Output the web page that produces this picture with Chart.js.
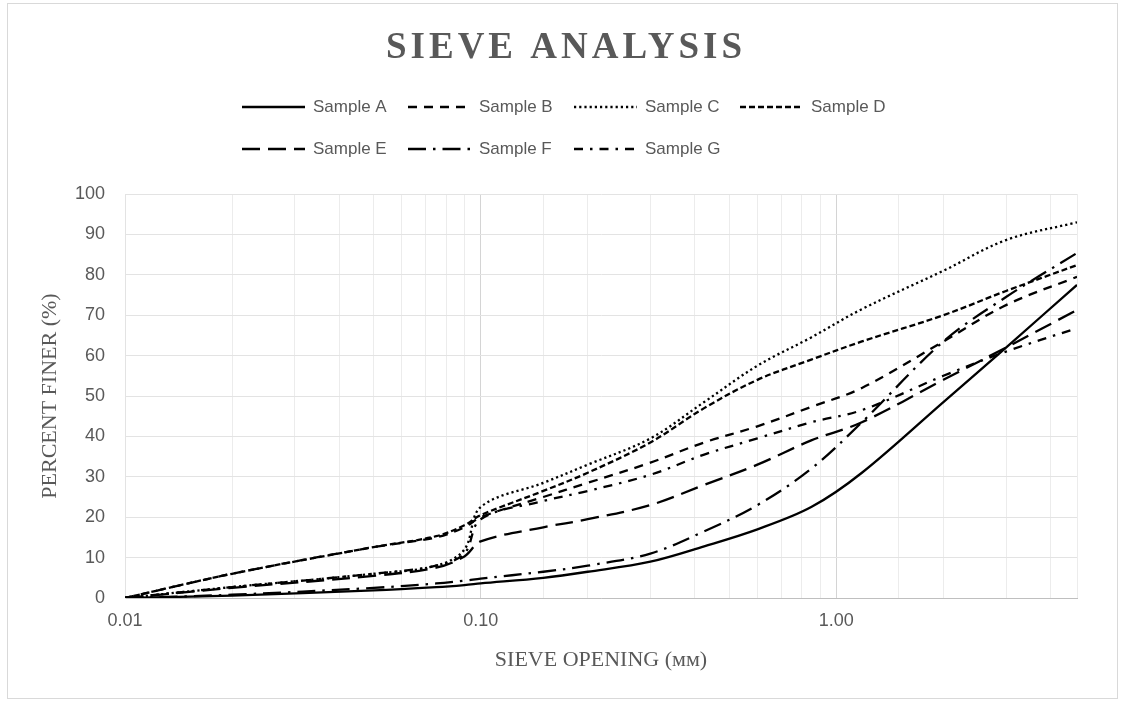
<!DOCTYPE html>
<html>
<head>
<meta charset="utf-8">
<script src="https://cdn.jsdelivr.net/npm/chart.js@4.4.1/dist/chart.umd.min.js"></script>
<style>
  html, body { margin: 0; padding: 0; background: #fff; }
</style>
</head>
<body>
<canvas id="sieveChart" width="1122" height="702"></canvas>
<script>
// sieve opening (mm) and percent finer
const sieveSizes = [0.01, 0.02, 0.05, 0.075, 0.09, 0.1, 0.15, 0.2, 0.3, 0.425, 0.6, 0.85, 1.18, 2.0, 3.0, 4.75];

const sampleA = [0, 0.6, 1.9, 2.7, 3.2, 3.6, 5, 6.5, 9, 12.8, 17, 22.5, 31, 48.5, 62, 77.5];
const sampleB = [0, 6, 12.6, 15, 17.5, 20, 25, 28.5, 33.5, 38.5, 42.5, 47.3, 52, 63.5, 72.5, 79.5];
const sampleC = [0, 2.7, 6, 8, 12, 22.5, 28.5, 33, 39.5, 48.5, 57.5, 64.5, 71.5, 81, 88.6, 93];
const sampleD = [0, 6, 12.6, 15.3, 18, 20.5, 26.5, 31, 38.5, 47, 54, 59, 63.5, 70, 76, 82.4];
const sampleE = [0, 2.5, 5.5, 7.5, 10.3, 14, 17.5, 19.5, 23, 28, 33, 39, 43.5, 54, 62, 71.3];
const sampleF = [0, 0.8, 2.5, 3.6, 4.3, 4.8, 6.5, 8, 11, 16.5, 23, 32, 43.5, 63.5, 74.5, 85.4];
const sampleG = [0, 2.7, 6, 8, 11, 19.5, 24, 26.5, 30.5, 35.5, 39.5, 43.5, 46.5, 55, 61, 66.8];

const sampleNames = ['Sample A', 'Sample B', 'Sample C', 'Sample D', 'Sample E', 'Sample F', 'Sample G'];
const yTicks = [0, 10, 20, 30, 40, 50, 60, 70, 80, 90, 100];

const chartTitle = 'SIEVE ANALYSIS';
const xTitle = 'SIEVE OPENING (\u1D0D\u1D0D)';
const yTitle = 'PERCENT FINER (%)';

const textGrey = '#595959';
const sansFont = '"Liberation Sans", Arial, sans-serif';
const serifFont = '"Liberation Serif", "Times New Roman", serif';

// line styles, in the order of the samples
const dashes = [
    [],              // solid
    [9, 7],          // dash
    [2.2, 3],        // round dot
    [6, 3],          // square dot
    [18, 8],         // long dash
    [18, 7, 2.5, 7], // long dash dot
    [9, 7, 2.5, 7]   // dash dot
];

function isDecade(v) {
    const l = Math.log10(v);
    return Math.abs(l - Math.round(l)) < 1e-9;
}

function toPoints(values) {
    return values.map((y, i) => ({ x: sieveSizes[i], y: y }));
}

const allSamples = [sampleA, sampleB, sampleC, sampleD, sampleE, sampleF, sampleG];

// title, legend and frame drawn by hand so the legend columns line up like the original
const chartDecor = {
    id: 'chartDecor',
    afterDraw(chart) {
        const ctx = chart.ctx;
        ctx.save();
        ctx.strokeStyle = '#d9d9d9';
        ctx.lineWidth = 1;
        ctx.strokeRect(7.5, 3.5, 1110, 695);

        ctx.fillStyle = textGrey;
        ctx.font = 'bold 37px ' + serifFont;
        ctx.letterSpacing = '4px';
        ctx.textAlign = 'center';
        ctx.textBaseline = 'middle';
        ctx.fillText(chartTitle, 566, 48);
        ctx.letterSpacing = '0px';

        chart.data.datasets.forEach((ds, i) => {
            const row = Math.floor(i / 4);
            const col = i % 4;
            const x = 242 + col * 166;
            const y = 107 + row * 42;
            ctx.beginPath();
            ctx.setLineDash(ds.borderDash);
            ctx.lineWidth = ds.borderWidth;
            ctx.strokeStyle = ds.borderColor;
            ctx.moveTo(x, y);
            ctx.lineTo(x + 63, y);
            ctx.stroke();
            ctx.setLineDash([]);
            ctx.font = '17px ' + sansFont;
            ctx.textAlign = 'left';
            ctx.fillStyle = textGrey;
            ctx.fillText(ds.label, x + 71, y);
        });
        ctx.restore();
    }
};

let ctx = document.getElementById('sieveChart').getContext('2d');
let sieveChart = new Chart(ctx, {
    type: 'line',
    data: {
        datasets: allSamples.map((vals, i) => ({
            label: sampleNames[i],
            data: toPoints(vals),
            borderColor: '#000000',
            borderWidth: 2.3,
            borderDash: dashes[i],
            pointRadius: 0,
            tension: 0.35,
            fill: false
        }))
    },
    options: {
        responsive: false,
        animation: false,
        layout: {
            padding: { top: 194, right: 45, bottom: 0, left: 0 }
        },
        plugins: {
            legend: { display: false },
            title: { display: false },
            tooltip: { enabled: false }
        },
        scales: {
            x: {
                type: 'logarithmic',
                min: 0.01,
                max: 4.75,
                afterFit: function (scale) { scale.height = 104; },
                grid: {
                    color: function (c) {
                        if (c.tick && isDecade(c.tick.value)) return '#d4d4d4';
                        return '#ececec';
                    },
                    drawTicks: false
                },
                border: { color: '#bfbfbf' },
                ticks: {
                    autoSkip: false,
                    maxRotation: 0,
                    padding: 12,
                    color: textGrey,
                    font: { size: 18, family: sansFont },
                    callback: function (v) {
                        return isDecade(v) ? Number(v).toFixed(2) : '';
                    }
                },
                title: {
                    display: true,
                    text: xTitle,
                    color: textGrey,
                    font: { size: 22, family: serifFont },
                    padding: { top: 0, bottom: 29 }
                }
            },
            y: {
                min: 0,
                max: 100,
                afterFit: function (scale) { scale.width = 125; },
                afterBuildTicks: function (scale) {
                    scale.ticks = yTicks.map(v => ({ value: v }));
                },
                grid: { color: '#e3e3e3', drawTicks: false },
                border: { color: '#e3e3e3' },
                ticks: {
                    padding: 20,
                    color: textGrey,
                    font: { size: 18, family: sansFont }
                },
                title: {
                    display: true,
                    text: yTitle,
                    color: textGrey,
                    font: { size: 22, family: serifFont },
                    padding: { top: 37, bottom: 0 }
                }
            }
        }
    },
    plugins: [chartDecor]
});
</script>
</body>
</html>
